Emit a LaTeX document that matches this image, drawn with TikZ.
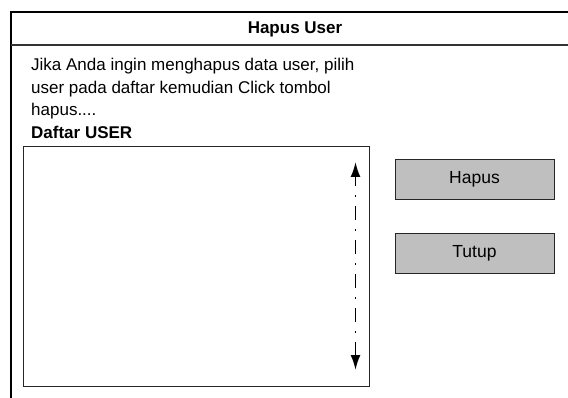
\documentclass[tikz,border=0pt]{standalone}
\usepackage{fontspec}
\setmainfont{Liberation Sans}
\usetikzlibrary{arrows.meta}
\tikzset{
  tombol/.style={draw=black!85,fill=black!25,line width=0.9pt,minimum width=159pt,minimum height=40pt,inner sep=0pt,font=\fontsize{17.5}{20}\selectfont},
  teks/.style={anchor=base west,inner sep=0pt,font=\fontsize{17}{20}\selectfont}
}
\begin{document}
\begin{tikzpicture}[x=1pt,y=-1pt,line cap=butt,line join=miter,>=stealth]
	\useasboundingbox (0,0) rectangle (568,398);
	\clip (0,0) rectangle (568,398);
	% bingkai jendela
	\draw[line width=1.3pt] (590,12) -- (11,12) -- (11,405);
	\draw[line width=1.1pt,color=black!80] (11,45) -- (590,45);
	\node[inner sep=0pt,font=\fontsize{17}{20}\selectfont\bfseries] (judul) at (295,29) {Hapus User};
	% pesan
	\node[teks] (baris1) at (31,71) {Jika Anda ingin menghapus data user, pilih};
	\node[teks] (baris2) at (31,93.5) {user pada daftar kemudian Click tombol};
	\node[teks] (baris3) at (31,115.5) {hapus....};
	\node[teks,font=\fontsize{17}{20}\selectfont\bfseries] (label) at (31,138.5) {Daftar USER};
	% daftar user
	\node[draw=black!85,line width=1pt,minimum width=346pt,minimum height=240pt,inner sep=0pt,anchor=north west] (daftar) at (23,146) {};
	\coordinate (atas) at (355.5,162);
	\coordinate (bawah) at (355.5,370);
	\draw[line width=1.9pt,dash pattern=on 14pt off 9pt on 2pt off 9pt,dash phase=4pt,
		{Latex[length=15pt,width=10pt]}-{Latex[length=15pt,width=10pt]}] (atas) -- (bawah);
	% tombol
	\node[tombol] (hapus) at (474.5,179) {Hapus};
	\node[tombol] (tutup) at (474.5,253) {Tutup};
\end{tikzpicture}
\end{document}
